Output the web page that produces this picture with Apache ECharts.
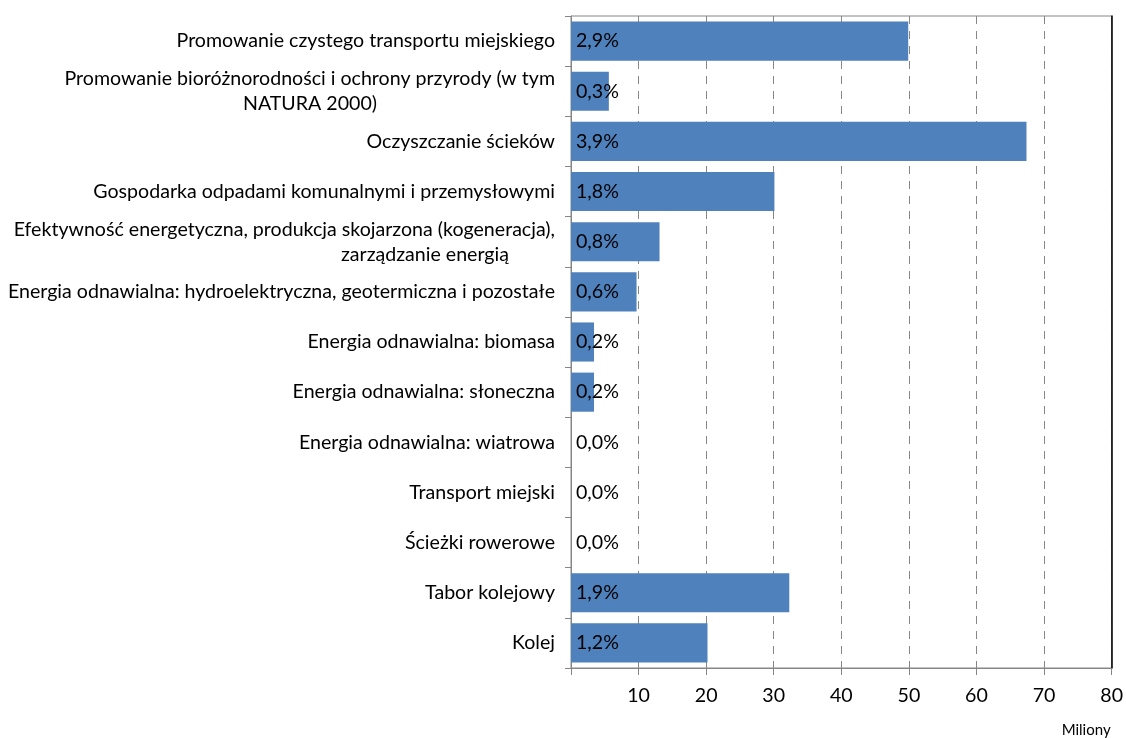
<!DOCTYPE html>
<html>
<head>
<meta charset="utf-8">
<script src="https://cdn.jsdelivr.net/npm/echarts@6/dist/echarts.min.js"></script>
<style>
  html, body { margin: 0; padding: 0; background: #fff; }
  #chart { width: 1126px; height: 738px; }
</style>
</head>
<body>
<div id="chart"></div>
<script>
// kategorie (od góry do dołu)
var categories = [
    'Promowanie czystego transportu miejskiego',
    'Promowanie bioróżnorodności i ochrony przyrody (w tym\nNATURA 2000)',
    'Oczyszczanie ścieków',
    'Gospodarka odpadami komunalnymi i przemysłowymi',
    'Efektywność energetyczna, produkcja skojarzona (kogeneracja),\nzarządzanie energią',
    'Energia odnawialna: hydroelektryczna, geotermiczna i pozostałe',
    'Energia odnawialna: biomasa',
    'Energia odnawialna: słoneczna',
    'Energia odnawialna: wiatrowa',
    'Transport miejski',
    'Ścieżki rowerowe',
    'Tabor kolejowy',
    'Kolej'
];
// wartości w milionach
var values = [49.9, 5.6, 67.4, 30.1, 13.1, 9.7, 3.4, 3.4, 0, 0, 0, 32.3, 20.2];
// udział procentowy (etykiety słupków)
var shares = ['2,9%', '0,3%', '3,9%', '1,8%', '0,8%', '0,6%', '0,2%', '0,2%', '0,0%', '0,0%', '0,0%', '1,9%', '1,2%'];
var xTicks = [10, 20, 30, 40, 50, 60, 70, 80];

var FONT = 'Lato';
var FS = 19.6;

// szerokość tekstu, żeby wycentrować drugą linię etykiety
var cnv = document.createElement('canvas').getContext('2d');
cnv.font = FS + 'px ' + FONT;
function textW(s){ return cnv.measureText(s).width; }

var myChart = echarts.init(document.getElementById('chart'));
var option = {
    animation: false,
    grid: {
        left: 571, right: 13, top: 16, bottom: 69,
        show: true,
        borderColor: '#868686',
        borderWidth: 1
    },
    xAxis: {
        type: 'value',
        min: 0, max: 80, interval: 10,
        name: 'Miliony',
        nameLocation: 'end',
        nameGap: 0,
        nameTextStyle: {
            fontFamily: FONT, fontSize: 15, color: '#000',
            align: 'right', verticalAlign: 'top',
            padding: [55, 1, 0, 0]
        },
        axisLine: { show: true, lineStyle: { color: '#868686', width: 1 } },
        axisTick: { show: true, length: 7, lineStyle: { color: '#868686' } },
        axisLabel: {
            fontFamily: FONT, fontSize: FS, color: '#000', margin: 18,
            formatter: function(v){ return xTicks.indexOf(v) >= 0 ? String(v) : ''; }
        },
        splitLine: { show: true, lineStyle: { color: '#868686', width: 1, type: [8, 7] } }
    },
    yAxis: [
        {
            type: 'category',
            inverse: true,
            data: categories,
            axisLine: { show: true, lineStyle: { color: '#868686', width: 1 } },
            axisTick: { show: true, length: 6, lineStyle: { color: '#868686' } },
            axisLabel: {
                fontFamily: FONT, fontSize: FS, color: '#000', margin: 16,
                lineHeight: 25,
                formatter: function(v){
                    var l = v.split('\n');
                    if (l.length < 2) return v;
                    if (v.indexOf('Efektywność') === 0) {
                        return l[0] + '\n{e|' + l[1] + '}';
                    }
                    var pad = Math.max(0, (textW(l[0]) - textW(l[1])) / 2);
                    return l[0] + '\n{c' + Math.round(pad) + '|' + l[1] + '}';
                },
                rich: (function(){
                    var r = { e: { fontFamily: FONT, fontSize: FS, color: '#000', lineHeight: 25, padding: [0, 46, 0, 0] } };
                    categories.forEach(function(v){
                        var l = v.split('\n');
                        if (l.length > 1) {
                            var pad = Math.round(Math.max(0, (textW(l[0]) - textW(l[1])) / 2));
                            r['c' + pad] = { fontFamily: FONT, fontSize: FS, color: '#000', lineHeight: 25, padding: [0, pad, 0, 0] };
                        }
                    });
                    return r;
                })()
            },
            splitLine: { show: false }
        },
        {
            // prawa krawędź obszaru wykresu
            type: 'category',
            position: 'right',
            inverse: true,
            data: categories,
            axisLine: { show: true, lineStyle: { color: '#000', width: 1.5 } },
            axisTick: { show: false },
            axisLabel: { show: false },
            splitLine: { show: false }
        }
    ],
    series: [
        {
            type: 'bar',
            data: values,
            barCategoryGap: '22%',
            itemStyle: { color: '#4F81BD' },
            label: {
                show: true,
                position: 'insideLeft',
                distance: 5,
                fontFamily: FONT,
                fontSize: FS,
                color: '#000',
                formatter: function(p){ return shares[p.dataIndex]; }
            }
        }
    ]
};
myChart.setOption(option);
</script>
</body>
</html>
